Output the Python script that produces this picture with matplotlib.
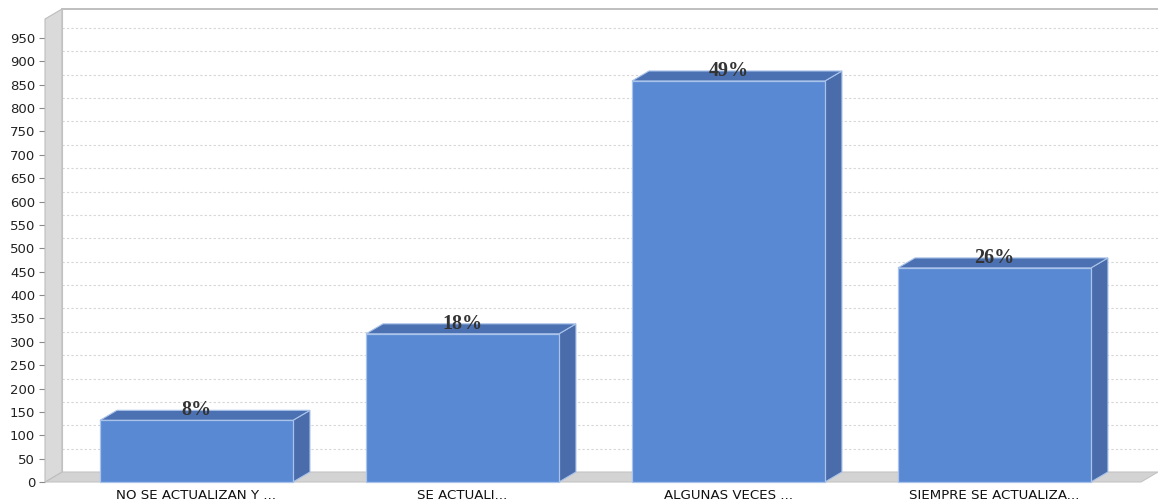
import matplotlib
matplotlib.use('Agg')
import matplotlib.pyplot as plt
from matplotlib.patches import Polygon, Rectangle

categories = ["NO SE ACTUALIZAN Y ...", "SE ACTUALI...", "ALGUNAS VECES ...", "SIEMPRE SE ACTUALIZA..."]
values = [132, 317, 858, 458]
pct_labels = ["8%", "18%", "49%", "26%"]
yticks = list(range(0, 1000, 50))

W, H = 1158, 504
fig = plt.figure(figsize=(W / 100, H / 100), dpi=100)
fig.patch.set_facecolor('white')
ax = fig.add_axes([45 / W, 22 / H, 1096 / W, 463 / H])
xmin, xmax = -0.5695, 3.551
ymin, ymax = 0, 990.6
ax.set_xlim(xmin, xmax)
ax.set_ylim(ymin, ymax)
ax.set_facecolor('none')
for s in ax.spines.values():
    s.set_visible(False)

# depth offsets (17 px right, 10 px up) in data units
dx = (xmax - xmin) / 1096 * 17
dy = (ymax - ymin) / 463 * 10
bw = 193 / 266

# back wall gridlines
for v in yticks[1:]:
    ax.plot([xmin + dx, xmax + dx], [v + dy, v + dy], color='#d6d6d6', lw=0.8,
            dashes=(2, 2), clip_on=False, zorder=1)
# back wall top edge
ax.plot([xmin + dx, xmax + dx], [ymax + dy, ymax + dy], color='#b4b4b4', lw=1.2,
        clip_on=False, zorder=1)
# left back vertical edge
ax.plot([xmin + dx, xmin + dx], [dy, ymax + dy], color='#c8c8c8', lw=0.8,
        clip_on=False, zorder=1)

# floor
floor = Polygon([(xmin, 0), (xmax, 0), (xmax + dx, dy), (xmin + dx, dy)],
                closed=True, facecolor='#d3d3d3', edgecolor='#c4c4c4', lw=0.8,
                clip_on=False, zorder=2)
ax.add_patch(floor)
# left wall
wall = Polygon([(xmin, 0), (xmin, ymax), (xmin + dx, ymax + dy), (xmin + dx, dy)],
               closed=True, facecolor='#dadada', edgecolor='#bdbdbd', lw=0.8,
               clip_on=False, zorder=2)
ax.add_patch(wall)

front_c = '#5989d3'
top_c = '#4c71b3'
side_c = '#4a6cab'
edge_c = '#a9c3ea'
for i, v in enumerate(values):
    x0, x1 = i - bw / 2, i + bw / 2
    side = Polygon([(x1, 0), (x1 + dx, dy), (x1 + dx, v + dy), (x1, v)], closed=True,
                   facecolor=side_c, edgecolor=edge_c, lw=0.8, clip_on=False, zorder=3)
    top = Polygon([(x0, v), (x1, v), (x1 + dx, v + dy), (x0 + dx, v + dy)], closed=True,
                  facecolor=top_c, edgecolor=edge_c, lw=0.8, clip_on=False, zorder=3)
    front = Rectangle((x0, 0), bw, v, facecolor=front_c, edgecolor=edge_c, lw=0.9,
                      clip_on=False, zorder=4)
    ax.add_patch(side)
    ax.add_patch(top)
    ax.add_patch(front)
    ax.annotate(pct_labels[i], (i, v), xytext=(0, 3.6), textcoords='offset points',
                ha='center', va='baseline', fontsize=14.5, fontweight='bold',
                family='Liberation Serif', color='#333333', zorder=6)

ax.set_yticks(yticks)
ax.set_yticklabels([str(t) for t in yticks], fontsize=9.5, color='#222222',
                   family='DejaVu Sans')
ax.tick_params(axis='y', length=4, width=0.8, color='#8a8a8a', pad=3)
ax.set_xticks(range(len(categories)))
ax.set_xticklabels(categories, fontsize=9.6, color='#111111', family='DejaVu Sans')
ax.tick_params(axis='x', length=0, pad=5)

fig.savefig('out.png', dpi=100, facecolor='white')
